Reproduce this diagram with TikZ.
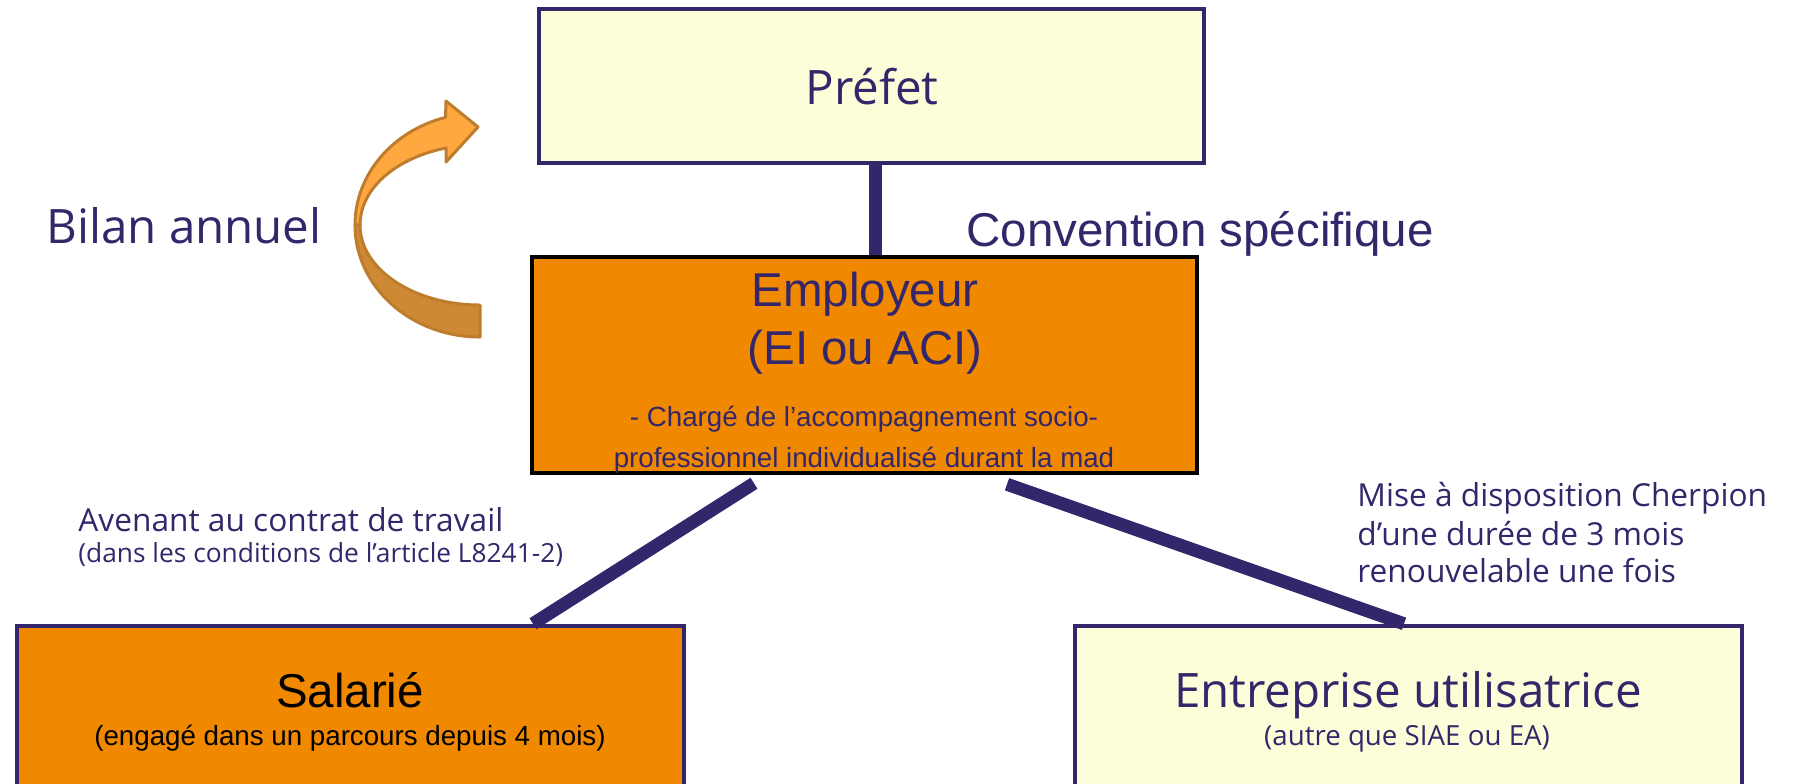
\documentclass[tikz,border=0pt]{standalone}
\usepackage{fontspec}
\setmainfont{Liberation Sans}
\newfontfamily\opensans{Open Sans}
\usetikzlibrary{calc}

\definecolor{ink}{RGB}{52,38,106}
\definecolor{pale}{RGB}{253,253,217}
\definecolor{carrot}{RGB}{240,136,0}
\definecolor{arrowtop}{RGB}{255,168,64}
\definecolor{arrowbottom}{RGB}{205,137,52}
\definecolor{arrowedge}{RGB}{190,125,45}

\newdimen\pxu
\pxu=0.01776cm

\newcommand\sizeA{\fontsize{24}{28.8}\selectfont}
\newcommand\sizeB{\fontsize{16}{19.2}\selectfont}
\newcommand\sizeC{\fontsize{14}{16.8}\selectfont}
\newcommand\sizeD{\fontsize{13.3}{16}\selectfont}

\tikzset{
  palebox/.style={draw=ink, fill=pale, line width=4.5*\pxu, inner sep=0pt},
  orangebox/.style={draw=ink, fill=carrot, line width=4.5*\pxu, inner sep=0pt},
  link/.style={draw=ink, line width=13*\pxu},
  arrowbody/.style={draw=arrowedge, line width=3*\pxu, line join=round},
  midtext/.style={text=ink, inner sep=0pt, anchor=base},
  lefttext/.style={text=ink, inner sep=0pt, anchor=base west},
}

\begin{document}
\begin{tikzpicture}[x=0.01776cm, y=-0.01776cm]

% slide frame
\useasboundingbox (0,0) rectangle (1799,783);
\clip (0,0) rectangle (1799,783);

% box centres
\coordinate (P) at (871.5,86);
\coordinate (E) at (864.5,365);
\coordinate (S) at (350.5,726);
\coordinate (U) at (1408.5,726);

% boxes
\node[palebox, minimum width=665*\pxu, minimum height=154*\pxu] (pref) at (P) {};
\node[orangebox, draw=black, minimum width=665*\pxu, minimum height=216*\pxu] (emp) at (E) {};
\node[orangebox, minimum width=667*\pxu, minimum height=200*\pxu] (sal) at (S) {};
\node[palebox, minimum width=667*\pxu, minimum height=200*\pxu] (ent) at (U) {};

% links between the boxes
\draw[link] ($(pref.south)+(3.5,0)$) -- ($(emp.north)+(10.5,0)$);
\draw[link] ($(emp.south)+(-110.5,8)$) -- ($(sal.north)+(182.5,0)$);
\draw[link] ($(emp.south)+(142.5,9)$) -- ($(ent.north)+(-4.5,0)$);

% bilan arrow, lower half first
\filldraw[arrowbody, fill=arrowbottom] (355,225)
  arc[start angle=180, end angle=90, x radius=125, y radius=112]
  -- (480,305)
  arc[start angle=90, end angle=180, x radius=120, y radius=80] -- cycle;
\filldraw[arrowbody, fill=arrowtop] (355,225)
  arc[start angle=180, end angle=254, x radius=125, y radius=112]
  -- (446,101) -- (478,127) -- (446,162) -- (446,148)
  arc[start angle=253.5, end angle=180, x radius=120, y radius=80] -- cycle;

% texts in the boxes
\node[midtext, font=\opensans\sizeA] (preftext) at (872,104) {Préfet};
\node[midtext, font=\sizeA] (empname) at (865,306) {Employeur};
\node[midtext, font=\sizeA] (emptype) at (865,364) {(EI ou ACI)};
\node[midtext, font=\sizeC] (emprole1) at (864,426) {- Chargé de l’accompagnement socio-};
\node[midtext, font=\sizeC] (emprole2) at (864,467) {professionnel individualisé durant la mad};
\node[midtext, font=\sizeA, text=black] (salname) at (350,707) {Salarié};
\node[midtext, font=\sizeC, text=black] (salinfo) at (350,745) {(engagé dans un parcours depuis 4 mois)};
\node[midtext, font=\opensans\sizeA] (entname) at (1408,707) {Entreprise utilisatrice};
\node[midtext, font=\opensans\sizeC] (entinfo) at (1407,745) {(autre que SIAE ou EA)};

% texts on the links
\node[lefttext, font=\opensans\sizeA] (bilan) at (46,243) {Bilan annuel};
\node[lefttext, font=\sizeA] (conv) at (966,246) {Convention spécifique};
\node[lefttext, font=\opensans\sizeB] (aven1) at (78,531) {Avenant au contrat de travail};
\node[lefttext, font=\opensans\sizeD] (aven2) at (78,562) {(dans les conditions de l’article L8241-2)};
\node[lefttext, font=\opensans\sizeB] (mise1) at (1357,506) {Mise à disposition Cherpion};
\node[lefttext, font=\opensans\sizeB] (mise2) at (1357,545) {d’une durée de 3 mois};
\node[lefttext, font=\opensans\sizeB] (mise3) at (1357,582) {renouvelable une fois};
\end{tikzpicture}
\end{document}
